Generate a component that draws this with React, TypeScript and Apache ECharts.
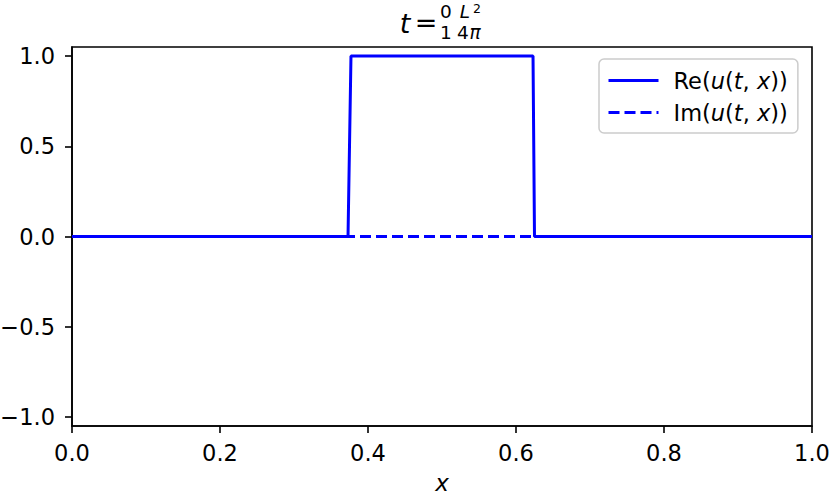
import React, { useEffect, useRef } from 'react';
import * as echarts from 'echarts';

const xTicks = [0, 0.2, 0.4, 0.6, 0.8, 1.0];
const yTicks = [-1, -0.5, 0, 0.5, 1];
const reX = [0, 0.373, 0.377, 0.623, 0.625, 1];
const reY = [0, 0, 1, 1, 0, 0];
const imX = [0, 0.373, 0.377, 0.623, 0.625, 1];
const imY = [0, 0, 0, 0, 0, 0];
const seriesNames = ['Re(u(t,x))', 'Im(u(t,x))'];
const legendPrefix = ['Re', 'Im'];

const FONT = 'DejaVu Sans';
const FS = 22.5;

export default function App() {
  const ref = useRef<HTMLDivElement>(null);
  useEffect(() => {
    if (!ref.current) return;
    const chart = echarts.init(ref.current, null, { renderer: 'svg' });
    const blue = '#0000ff';
    const fmt = (v: number) => (v < 0 ? '\u2212' + Math.abs(v).toFixed(1) : v.toFixed(1));
    const txt = (text: string, x: number, y: number, size: number, italic = false, align = 'center') => ({
      type: 'text',
      x,
      y,
      style: {
        text,
        fontFamily: FONT,
        fontSize: size,
        fontStyle: italic ? 'italic' : 'normal',
        fill: '#000',
        align,
        verticalAlign: 'middle',
      },
    });
    const rich = {
      n: { fontFamily: FONT, fontSize: FS, color: '#000' },
      i: { fontFamily: FONT, fontSize: FS, fontStyle: 'italic', color: '#000' },
    };
    chart.setOption({
      animation: false,
      grid: {
        left: 72,
        right: 18,
        top: 47,
        bottom: 72,
        show: true,
        borderColor: '#000',
        borderWidth: 1.6,
        outerBoundsMode: 'none',
      },
      xAxis: {
        type: 'value',
        min: xTicks[0],
        max: xTicks[xTicks.length - 1],
        interval: 0.2,
        splitLine: { show: false },
        axisLine: { show: true, onZero: false, lineStyle: { color: '#000', width: 1.6 } },
        axisTick: { show: true, length: 7, lineStyle: { color: '#000', width: 1.6 } },
        axisLabel: {
          formatter: (v: number) => fmt(v),
          fontFamily: FONT,
          fontSize: FS,
          color: '#000',
          margin: 15,
          showMinLabel: true,
          showMaxLabel: true,
        },
        name: 'x',
        nameLocation: 'middle',
        nameGap: 45,
        nameTextStyle: { fontFamily: FONT, fontSize: 23, fontStyle: 'italic', color: '#000' },
      },
      yAxis: {
        type: 'value',
        min: -1.05,
        max: 1.05,
        splitLine: { show: false },
        axisLine: { show: true, onZero: false, lineStyle: { color: '#000', width: 1.6 } },
        axisTick: {
          show: true,
          length: 7,
          customValues: yTicks,
          lineStyle: { color: '#000', width: 1.6 },
        },
        axisLabel: {
          customValues: yTicks,
          formatter: (v: number) => fmt(v),
          fontFamily: FONT,
          fontSize: FS,
          color: '#000',
          margin: 17,
        },
      },
      legend: {
        left: 599,
        top: 59,
        orient: 'vertical',
        padding: [10, 10, 9, 8],
        itemGap: 9,
        itemWidth: 50,
        itemHeight: 24,
        backgroundColor: '#fff',
        borderColor: '#cccccc',
        borderWidth: 1.5,
        borderRadius: 5,
        itemStyle: { opacity: 0 },
        lineStyle: { width: 3 },
        data: seriesNames,
        formatter: (name: string) => {
          const p = legendPrefix[seriesNames.indexOf(name)];
          return `{n|${p}(}{i|u}{n|(}{i|t}{n|, }{i|x}{n|))}`;
        },
        textStyle: { fontFamily: FONT, fontSize: FS, color: '#000', padding: [0, 0, 0, 10], rich },
      },
      series: [
        {
          name: seriesNames[0],
          type: 'line',
          symbol: 'none',
          showSymbol: false,
          data: reX.map((x, i) => [x, reY[i]]),
          lineStyle: { color: blue, width: 3 },
          itemStyle: { color: blue },
        },
        {
          name: seriesNames[1],
          type: 'line',
          symbol: 'none',
          showSymbol: false,
          data: imX.map((x, i) => [x, imY[i]]),
          lineStyle: { color: blue, width: 3, type: [11, 5] },
          itemStyle: { color: blue },
        },
      ],
      graphic: [
        txt('t', 405, 23, 27, true),
        txt('=', 426, 22, 27),
        txt('0', 446, 11.5, 18.5),
        txt('1', 446, 32, 18.5),
        txt('L', 465, 11.5, 18.5, true),
        txt('2', 477, 8, 12.5),
        txt('4', 463, 32, 18.5),
        txt('π', 475, 32, 18.5, true),
      ],
    } as any);
    return () => chart.dispose();
  }, []);
  return (
    <div
      ref={ref}
      style={{ position: 'absolute', left: 0, top: 0, width: 830, height: 498 }}
    />
  );
}
